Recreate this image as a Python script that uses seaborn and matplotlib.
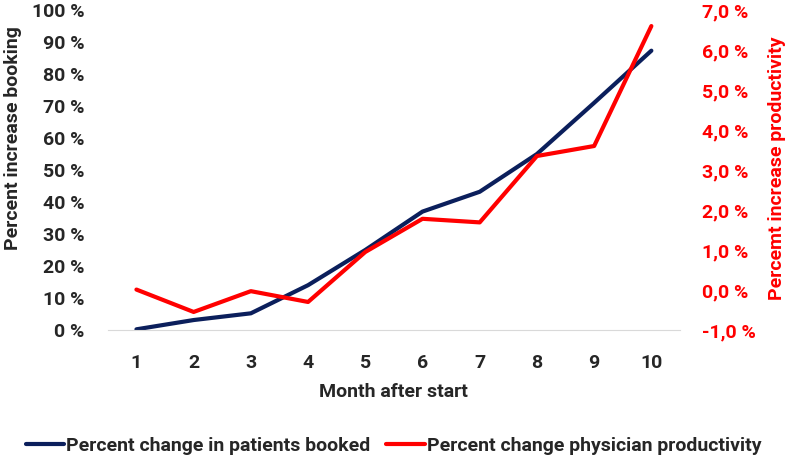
import matplotlib.pyplot as plt
import matplotlib.ticker as mticker
import seaborn as sns
import pandas as pd

# values
months = [1, 2, 3, 4, 5, 6, 7, 8, 9, 10]
booked_pct = [0.2, 3.1, 5.2, 14.0, 25.0, 37.0, 43.2, 55.0, 71.0, 87.3]
productivity_pct = [0.01, -0.55, -0.03, -0.3, 0.95, 1.78, 1.69, 3.35, 3.6, 6.6]

left_ticks = [0, 10, 20, 30, 40, 50, 60, 70, 80, 90, 100]
right_ticks = [-1, 0, 1, 2, 3, 4, 5, 6, 7]

navy = "#0B1F5C"
red = "#FF0000"

sns.set_style("white")
plt.rcParams["font.family"] = ["Roboto", "DejaVu Sans"]
plt.rcParams["font.weight"] = "bold"
fs = 14

df = pd.DataFrame({"month": months, "booked": booked_pct, "prod": productivity_pct})

fig = plt.figure(figsize=(7.87, 4.57), dpi=100)
ax = fig.add_axes([0.137, 0.278, 0.727, 0.70])
ax2 = ax.twinx()

sns.lineplot(data=df, x="month", y="booked", ax=ax, color=navy, linewidth=3,
             label="Percent change in patients booked", legend=False)
sns.lineplot(data=df, x="month", y="prod", ax=ax2, color=red, linewidth=3,
             label="Percent change physician productivity", legend=False)

ax.set_xlim(0.5, 10.5)
ax.set_ylim(0, 100)
ax2.set_ylim(-1, 7)
ax.set_xticks(months)
ax.set_yticks(left_ticks)
ax2.set_yticks(right_ticks)
ax.yaxis.set_major_formatter(mticker.FuncFormatter(lambda v, p: f"{v:.0f} %"))
ax2.yaxis.set_major_formatter(
    mticker.FuncFormatter(lambda v, p: f"{v:.1f} %".replace(".", ",")))

for a in (ax, ax2):
    for s in a.spines.values():
        s.set_visible(False)
    a.tick_params(length=0, labelsize=fs)
ax.spines["bottom"].set_visible(True)
ax.spines["bottom"].set_color("#D9D9D9")
ax.tick_params(axis="x", pad=17)
ax.tick_params(axis="y", pad=17)
ax2.tick_params(axis="y", colors=red, pad=16)
for lab in ax.get_yticklabels() + ax.get_xticklabels() + ax2.get_yticklabels():
    lab.set_fontweight("bold")

ax.set_xlabel("Month after start", fontsize=fs, fontweight="bold", labelpad=8)
ax.set_ylabel("Percent increase booking", fontsize=fs, fontweight="bold")
ax2.set_ylabel("Percemt increase productivity", fontsize=fs, fontweight="bold",
               color=red)
# place the y labels like the reference (centre of the rotated text)
ax.yaxis.label.set(va="center", ha="center", rotation_mode="anchor")
ax2.yaxis.label.set(va="center", ha="center", rotation=90, rotation_mode="anchor")
ax.yaxis.set_label_coords(-0.165, 0.6)
ax2.yaxis.set_label_coords(1.17, 0.505)

h1, l1 = ax.get_legend_handles_labels()
h2, l2 = ax2.get_legend_handles_labels()
fig.legend(h1 + h2, l1 + l2, loc="center", bbox_to_anchor=(0.5, 0.025), ncol=2,
           frameon=False, prop={"weight": "bold", "size": fs},
           handlelength=2.0, handletextpad=0.1, columnspacing=0.8)

fig.savefig("out.png", dpi=100)
